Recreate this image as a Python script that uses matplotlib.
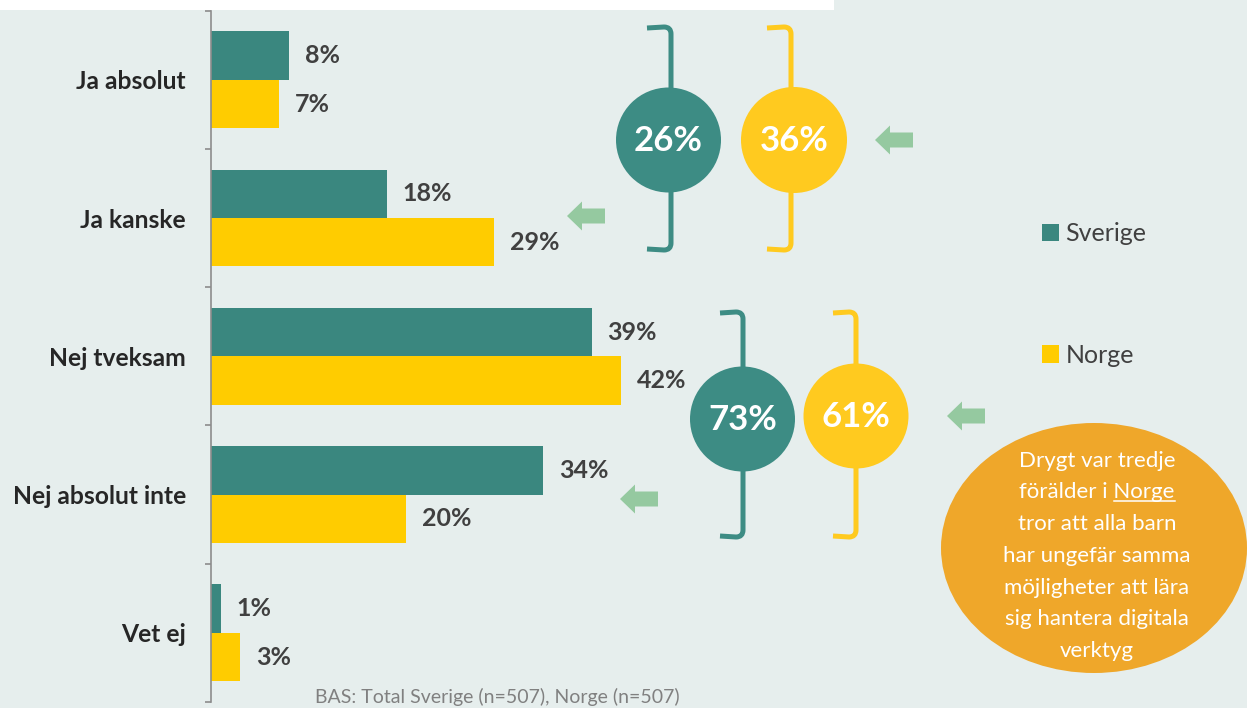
import matplotlib
matplotlib.use("Agg")
import matplotlib.pyplot as plt
from matplotlib.patches import Circle, Ellipse, Polygon, Rectangle, PathPatch
from matplotlib.path import Path
import numpy as np

# ---------------- data ----------------
categories = ["Ja absolut", "Ja kanske", "Nej tveksam", "Nej absolut inte", "Vet ej"]
sverige = [8, 18, 39, 34, 1]
norge = [7, 29, 42, 20, 3]
series_names = ["Sverige", "Norge"]
ja_totals = ["26%", "36%"]      # Sverige, Norge
nej_totals = ["73%", "61%"]     # Sverige, Norge
note_lines = ["Drygt var tredje", "förälder i Norge", "tror att alla barn",
              "har ungefär samma", "möjligheter att lära", "sig hantera digitala",
              "verktyg"]
footer = "BAS: Total Sverige (n=507), Norge (n=507)"

# ---------------- style ----------------
BG = "#E6EEED"
GREEN = "#3A877F"
YELLOW = "#FFCC00"
CGREEN = "#3D8C84"
CYELLOW = "#FFCA1F"
ARROW = "#95C9A0"
ORANGE = "#EFA72A"
DARK = "#404040"
FONT = "Lato"
plt.rcParams["font.family"] = [FONT, "DejaVu Sans"]

W, H = 1247, 708
fig = plt.figure(figsize=(W / 100, H / 100), dpi=100)
fig.patch.set_facecolor(BG)

# ---------------- bar chart ----------------
ax = fig.add_axes([211 / W, 6 / H, (W - 211) / W, 691.3 / H])
ax.patch.set_alpha(0)
y = np.arange(len(categories))
bh = 0.35
b1 = ax.barh(y - bh / 2, sverige, height=bh, color=GREEN, label=series_names[0])
b2 = ax.barh(y + bh / 2, norge, height=bh, color=YELLOW, label=series_names[1])
ax.set_ylim(len(categories) - 0.5, -0.5)
ax.set_xlim(0, (W - 211) / 9.76)

for s in ["top", "right", "bottom"]:
    ax.spines[s].set_visible(False)
ax.spines["left"].set_color("#8C8C8C")
ax.spines["left"].set_linewidth(1.2)
ax.xaxis.set_visible(False)
ax.set_yticks(y)
ax.set_yticklabels(categories, fontsize=17.7, fontweight="bold", color="#262626")
ax.tick_params(axis="y", which="major", length=0, pad=18)
ax.set_yticks(np.arange(-0.5, len(categories), 1), minor=True)
ax.tick_params(axis="y", which="minor", length=4.5, width=1.2, color="#8C8C8C", direction="out")

for bars, vals in [(b1, sverige), (b2, norge)]:
    ax.bar_label(bars, labels=[f"{v}%" for v in vals], padding=11.5,
                 fontsize=18, fontweight="bold", color=DARK)

# ---------------- decorations (pixel overlay) ----------------
ov = fig.add_axes([0, 0, 1, 1], zorder=5)
ov.set_xlim(0, W)
ov.set_ylim(H, 0)
ov.axis("off")
ov.patch.set_alpha(0)

ov.add_patch(Rectangle((0, 0), 834, 10, color="white", lw=0))


def bracket(x_v, x_hook, y_top, y_bot, color, r=7):
    verts = [(x_hook, y_top + 1), (x_v - r, y_top), (x_v, y_top), (x_v, y_top + r),
             (x_v, y_bot - r), (x_v, y_bot), (x_v - r, y_bot), (x_hook, y_bot - 1)]
    codes = [Path.MOVETO, Path.LINETO, Path.CURVE3, Path.CURVE3,
             Path.LINETO, Path.CURVE3, Path.CURVE3, Path.LINETO]
    ov.add_patch(PathPatch(Path(verts, codes), fill=False, edgecolor=color,
                           lw=3.6, capstyle="butt", joinstyle="round"))


def arrow(tx, ty):
    pts = [(tx, ty), (tx + 15, ty - 14.5), (tx + 15, ty - 7.5), (tx + 38, ty - 7.5),
           (tx + 38, ty + 7.5), (tx + 15, ty + 7.5), (tx + 15, ty + 14.5)]
    ov.add_patch(Polygon(pts, closed=True, color=ARROW, lw=0))


# brackets
bracket(671, 647, 27, 250, CGREEN)
bracket(791, 767, 27, 250, CYELLOW)
bracket(743, 720, 312, 537, CGREEN)
bracket(856, 833, 312, 537, CYELLOW)

# circles
circ = [(668.5, 140, 52.5, CGREEN, ja_totals[0]),
        (794, 140, 53, CYELLOW, ja_totals[1]),
        (742.5, 419, 52.5, CGREEN, nej_totals[0]),
        (856, 416, 52.5, CYELLOW, nej_totals[1])]
for cx, cy, r, c, t in circ:
    ov.add_patch(Circle((cx, cy), r, color=c, lw=0))
    ov.text(cx, cy + 1, t, ha="center", va="center", fontsize=25,
            fontweight="bold", color="white")

# arrows
for tx, ty in [(875, 140), (567, 216), (620, 499), (947, 416)]:
    arrow(tx, ty)

# orange note
ov.add_patch(Ellipse((1094, 548), 306, 250, color=ORANGE, lw=0))
note_texts = []
for i, line in enumerate(note_lines):
    t = ov.text(1097, 466.7 + i * 31.7, line, ha="center", va="baseline",
                fontsize=16, color="white")
    note_texts.append(t)

# legend
fig.legend(handles=[b1, b2], labels=series_names, loc="upper left",
           bbox_to_anchor=(1042 / W, 1 - 222 / H), frameon=False, fontsize=18,
           labelcolor=DARK, handlelength=0.68, handleheight=0.68,
           handletextpad=0.25, labelspacing=3.95, borderpad=0, borderaxespad=0)

# footer
ov.text(315, 697, footer, ha="left", va="center", fontsize=14, color="#808080")

# underline "Norge" in note
fig.canvas.draw()
rend = fig.canvas.get_renderer()
t = note_texts[1]
bb = t.get_window_extent(rend)
tmp = ov.text(0, 0, "Norge", fontsize=16)
wn = tmp.get_window_extent(rend).width
tmp.remove()
inv = ov.transData.inverted()
x1 = inv.transform((bb.x1, 0))[0]
x0 = inv.transform((bb.x1 - wn, 0))[0]
yb = 466.7 + 31.7 + 3
ov.plot([x0, x1], [yb, yb], color="white", lw=1.1)

fig.savefig("out.png", dpi=100, facecolor=BG)
